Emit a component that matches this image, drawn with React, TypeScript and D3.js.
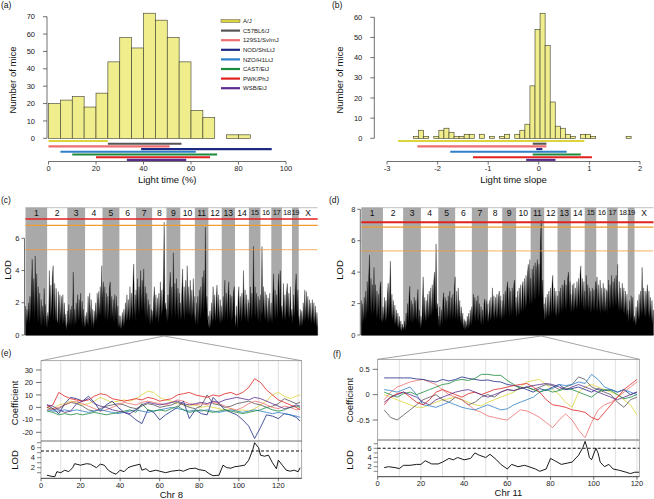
import React from "react";
import * as d3 from "d3";

const FONT = "'Liberation Sans', Arial, Helvetica, sans-serif";

// ---------- strains ----------
const strains = ["A/J", "C57BL6/J", "129S1/SvImJ", "NOD/ShiLtJ", "NZO/H1LtJ", "CAST/EiJ", "PWK/PhJ", "WSB/EiJ"];
const strainColors = ["#dcd43c", "#555555", "#ee6f6f", "#1c2a84", "#2f7fc6", "#1c8a3c", "#e0221f", "#5a2c8c"];

// ---------- (a) light time histogram ----------
const histA = [20, 22, 24, 18, 26, 44, 58, 52, 72, 68, 58, 44, 16, 12, 0, 2, 2];
const histAStart = 0;
const histAWidth = 5;
const rangesA: [number, number][] = [[0, 25], [25, 56], [0, 51], [39, 94], [5, 62], [10, 71], [20, 68], [33, 58]];
const ticksAx = [0, 20, 40, 60, 80, 100];
const ticksAy = [0, 10, 20, 30, 40, 50, 60, 70];

// ---------- (b) light time slope histogram ----------
const histB = [1, 4, 1, 0, 1, 4, 5, 3, 1, 1, 2, 2, 0, 2, 0, 1, 0, 1, 2, 0, 2, 4, 7, 26, 54, 62, 46, 18, 6, 5, 2, 1, 0, 2, 2, 1, 0, 0, 0, 0, 0, 0, 1];
const histBStart = -2.475;
const histBWidth = 0.1;
const rangesB: [number, number][] = [[-2.78, 0.9], [-0.12, 0.15], [-2.4, 0.15], [-0.05, 0.07], [-1.75, 0.55], [-0.12, 0.83], [-1.3, 1.05], [-0.25, 0.33]];
const ticksBx = [-3, -2, -1, 0, 1, 2];
const ticksBy = [0, 10, 20, 30, 40, 50, 60];

// ---------- genome ----------
const chrNames = ["1", "2", "3", "4", "5", "6", "7", "8", "9", "10", "11", "12", "13", "14", "15", "16", "17", "18", "19", "X"];
const chrLenMb = [195, 182, 160, 157, 152, 150, 145, 129, 125, 131, 122, 120, 120, 125, 104, 98, 95, 91, 61, 171];

// (c) genome scan LOD, light time
const lodC: number[][] = [
  [1.8, 0.6, 1.6, 0.8, 2.0, 0.7, 2.4, 1.0, 3.0, 4.7, 1.2, 3.5, 0.9, 4.9, 1.4, 3.8, 0.8, 3.0, 0.7, 2.6, 0.6, 2.2, 0.5, 1.8, 0.9, 2.9, 0.5, 1.9, 0.4, 1.2],
  [0.4, 1.4, 0.8, 4.0, 1.0, 3.1, 1.2, 3.6, 4.3, 0.9, 3.2, 0.8, 2.9, 1.0, 0.7, 2.7, 0.6, 2.5, 0.9, 2.4, 0.6, 2.5, 0.7, 2.0, 0.5, 1.3, 0.3, 0.9],
  [1.5, 0.5, 1.9, 0.6, 1.6, 0.5, 1.8, 0.7, 3.9, 0.5, 1.6, 0.6, 2.0, 0.7, 2.5, 0.8, 2.2, 0.9, 2.6, 0.7, 2.1, 0.5, 1.6, 0.4, 1.0],
  [1.2, 0.5, 1.4, 0.6, 2.4, 0.5, 2.6, 0.9, 2.2, 0.5, 1.6, 0.4, 1.5, 0.7, 2.0, 0.8, 2.6, 1.0, 2.7, 1.2, 3.0, 1.1, 4.3, 1.4],
  [2.2, 3.3, 1.0, 3.0, 0.9, 2.6, 0.8, 2.4, 1.0, 2.9, 3.3, 0.8, 2.4, 1.0, 2.2, 0.7, 2.5, 1.0, 2.4, 0.6, 1.8, 0.4, 1.2],
  [0.8, 0.4, 1.2, 0.3, 1.4, 0.5, 1.6, 0.6, 2.0, 0.8, 2.5, 0.9, 2.2, 0.8, 3.0, 1.0, 2.6, 1.0, 3.2, 4.4, 1.2, 2.5, 0.8],
  [2.8, 1.4, 3.5, 1.2, 3.0, 1.3, 4.0, 1.4, 3.4, 1.5, 4.1, 1.2, 3.0, 0.9, 2.6, 1.0, 2.2, 0.7, 1.9, 0.6, 1.6, 0.7],
  [1.5, 0.8, 2.2, 3.0, 0.9, 2.5, 1.0, 2.3, 0.7, 2.6, 1.0, 3.3, 1.2, 2.8, 1.3, 3.5, 7.0, 1.6, 2.0, 0.8],
  [1.6, 0.8, 2.5, 1.0, 2.9, 3.9, 1.0, 3.0, 1.2, 5.1, 1.3, 3.2, 1.0, 3.5, 1.2, 2.9, 0.9, 2.6, 0.8],
  [2.0, 1.0, 2.8, 4.1, 1.2, 3.0, 0.9, 3.4, 1.3, 4.3, 1.1, 3.0, 1.2, 3.4, 1.0, 2.8, 1.1, 3.5, 0.9, 2.4],
  [1.4, 0.6, 2.0, 0.6, 2.4, 0.8, 2.8, 1.0, 3.0, 1.2, 3.6, 1.3, 4.0, 1.5, 6.7, 1.6, 2.4, 0.9, 1.2],
  [0.8, 0.4, 1.5, 0.5, 2.0, 0.7, 3.0, 0.9, 2.5, 0.8, 2.2, 3.1, 0.9, 2.5, 0.8, 2.2, 0.7, 1.8],
  [1.6, 0.8, 2.4, 0.9, 3.4, 1.1, 2.6, 0.9, 2.4, 3.3, 1.0, 2.5, 0.8, 2.4, 0.9, 2.6, 3.0, 1.0],
  [1.2, 0.5, 1.8, 0.5, 2.2, 3.0, 0.9, 2.4, 0.8, 2.6, 1.1, 4.0, 1.0, 2.8, 0.9, 2.5, 0.8, 2.2, 0.7],
  [2.0, 1.0, 3.0, 0.9, 2.6, 1.1, 5.5, 1.2, 3.0, 1.0, 2.6, 0.9, 2.4, 0.8, 2.2, 0.7],
  [2.5, 1.2, 5.5, 1.2, 3.0, 1.0, 2.7, 0.9, 2.5, 0.8, 2.3, 0.7, 2.6, 0.9, 2.0],
  [1.5, 0.7, 2.4, 3.8, 1.1, 2.8, 0.9, 2.5, 1.0, 3.0, 3.8, 1.2, 4.0, 1.3, 1.8],
  [1.8, 0.9, 3.2, 1.0, 2.5, 0.9, 2.6, 3.2, 1.1, 2.6, 0.9, 3.0, 1.1, 1.6],
  [1.6, 0.7, 2.5, 1.0, 2.8, 3.8, 1.2, 2.8, 0.8],
  [1.2, 0.5, 1.6, 0.5, 1.5, 0.6, 2.0, 0.8, 2.8, 0.9, 2.7, 1.0, 2.4, 0.8, 2.2, 0.9, 2.0, 0.7, 2.2, 0.8, 2.0, 0.6, 1.8, 0.5, 1.4, 0.4],
];

// (d) genome scan LOD, light time slope
const lodD: number[][] = [
  [2.2, 0.6, 2.0, 0.8, 2.4, 0.9, 2.8, 1.1, 3.4, 1.3, 3.8, 5.1, 1.5, 3.6, 1.2, 3.2, 1.3, 4.3, 1.4, 3.2, 1.0, 2.8, 1.1, 2.6, 0.9, 3.0, 3.4, 1.1, 0.8, 1.8],
  [1.8, 0.9, 2.4, 0.8, 2.2, 0.9, 2.6, 3.3, 1.2, 3.0, 4.7, 1.1, 2.6, 0.9, 2.2, 0.7, 1.9, 0.6, 1.6, 0.5, 1.4, 0.4, 1.2, 0.3, 0.9, 0.2, 0.7, 0.3],
  [0.5, 0.3, 0.9, 0.3, 1.4, 0.5, 2.0, 0.8, 2.4, 3.1, 0.8, 2.2, 0.7, 2.0, 0.8, 2.4, 0.9, 2.2, 0.8, 2.0, 2.9, 0.7, 1.6, 0.4, 1.0],
  [1.2, 0.6, 2.0, 3.7, 0.9, 2.4, 0.8, 2.2, 0.9, 2.6, 1.0, 2.8, 1.1, 3.0, 1.2, 3.2, 1.4, 3.4, 4.0, 1.5, 5.8, 1.6, 2.0, 0.8],
  [1.2, 0.5, 1.8, 0.5, 1.6, 0.7, 2.2, 2.7, 0.9, 2.4, 0.8, 2.2, 0.9, 2.5, 1.0, 2.8, 1.0, 2.4, 1.0, 2.6, 1.1, 3.0, 3.7],
  [2.2, 1.0, 2.8, 0.9, 3.0, 1.0, 2.2, 0.8, 1.8, 0.6, 1.4, 0.4, 1.0, 0.3, 0.9, 0.4, 1.2, 0.4, 1.4, 0.5, 1.6, 0.6, 1.8],
  [1.8, 0.9, 2.6, 1.0, 2.4, 0.8, 2.2, 0.9, 2.5, 0.8, 2.0, 0.7, 1.8, 0.6, 1.6, 0.7, 2.0, 2.3, 0.9, 2.2, 0.8, 2.0],
  [1.6, 0.8, 2.2, 0.9, 2.4, 1.0, 3.0, 1.1, 2.5, 0.9, 2.4, 1.0, 2.6, 1.1, 2.4, 2.8, 1.0, 2.5, 0.9, 2.2],
  [2.0, 1.0, 2.6, 1.1, 2.8, 1.2, 3.0, 3.4, 1.3, 3.0, 1.1, 2.8, 1.2, 3.0, 1.3, 3.2, 3.5, 1.4, 2.4],
  [2.2, 1.1, 2.8, 1.2, 3.0, 1.3, 3.2, 1.4, 3.0, 3.4, 1.5, 3.6, 1.6, 3.8, 1.8, 4.0, 4.5, 1.9, 4.8, 2.0],
  [3.6, 1.8, 4.2, 2.0, 4.4, 2.1, 4.6, 2.2, 4.2, 4.8, 2.3, 4.5, 2.4, 6.0, 7.3, 2.2, 3.5, 1.5, 2.0],
  [1.8, 0.9, 2.4, 1.0, 2.6, 1.1, 2.8, 1.2, 3.0, 1.3, 3.2, 3.8, 1.3, 3.0, 1.2, 2.8, 1.1, 2.5],
  [2.4, 1.2, 2.8, 1.3, 3.0, 1.4, 3.2, 1.5, 3.0, 3.5, 1.5, 3.2, 1.6, 3.6, 4.0, 1.7, 3.4, 1.5],
  [2.6, 1.4, 3.2, 1.5, 3.3, 1.6, 3.0, 1.6, 3.4, 1.7, 3.6, 1.8, 3.8, 4.4, 1.8, 3.6, 1.6, 3.4, 1.5],
  [2.8, 1.5, 3.8, 1.6, 3.2, 1.5, 3.0, 1.4, 2.8, 1.4, 3.0, 1.5, 2.9, 1.5, 3.4, 1.4],
  [2.8, 3.7, 1.5, 3.2, 1.5, 3.5, 1.4, 3.0, 1.5, 3.3, 1.4, 3.0, 1.4, 2.9, 1.3],
  [2.8, 1.5, 3.5, 1.6, 3.2, 1.6, 3.8, 1.7, 3.4, 1.7, 3.6, 1.8, 3.8, 1.8, 4.5],
  [3.0, 1.6, 3.4, 1.5, 3.0, 1.5, 3.3, 1.4, 3.0, 1.3, 2.8, 1.2, 2.6, 1.1],
  [1.6, 0.8, 2.2, 0.9, 2.5, 1.0, 2.4, 0.8, 1.2],
  [1.2, 0.6, 1.8, 0.7, 2.2, 0.9, 2.6, 1.0, 2.8, 1.2, 4.3, 1.3, 3.0, 1.2, 2.8, 1.1, 2.6, 3.2, 1.2, 2.8, 1.0, 2.4, 0.9, 2.2, 0.7, 1.6],
];
const thresholdsC = [7.2, 6.8, 5.3];
const thresholdsD = [7.18, 6.86, 5.35];
const ticksC = [0, 2, 4, 6];
const ticksD = [0, 2, 4, 6, 8];

// ---------- (e) chr 8 zoom ----------
const posE = [3, 6, 9, 12, 15, 18, 21, 24, 27, 30, 33, 36, 39, 42, 45, 48, 51, 54, 57, 60, 63, 66, 69, 72, 75, 78, 81, 84, 87, 90, 93, 96, 99, 102, 105, 108, 111, 114, 117, 120, 123, 126, 129, 131];
const coefE_AJ = [0, -1, 2, 3, 5, 4, 2, 3, 5, 8, 6, 4, 5, 6, 5, 7, 10, 13, 12, 8, 6, 5, 3, 2, 1, 2, 0, 1, 0, -1, -2, -1, -3, -2, -3, -1, 2, 5, 10, 12, 9, 7, 9, 10];
const coefE_B6 = [0, -2, -1, 2, 4, 3, 1, -2, -3, -1, 1, 2, 3, 2, 0, -1, 1, 3, 2, 0, 1, 2, 4, 2, 0, -1, 1, 10, 3, 2, 0, 1, 3, 4, 5, 3, 2, 0, 1, 3, 7, 5, 3, 4];
const coefE_129 = [-2, -1, 0, 2, 4, 5, 3, 1, -1, -3, -2, 0, 2, 4, 3, 2, 4, 5, 4, 3, 2, 4, 6, 5, 3, 2, 3, 2, 4, 3, 1, -1, -2, 0, 3, 5, 4, 2, 0, -1, 1, 0, -2, -1];
const coefE_NOD = [2, -1, -5, 3, 8, 7, 5, 9, 4, -3, 2, 5, 0, -4, -6, -10, -13, -2, -4, -10, -6, -3, 0, 5, -9, -2, -5, -6, 8, 3, -2, -4, -6, -10, -15, -25, -16, -6, -7, -9, -5, -6, -8, -11];
const coefE_NZO = [-2, -3, -3, -2, -3, -2, -3, -4, -3, -2, -3, -4, -5, -4, -3, -2, -3, -4, -3, -2, -1, 0, -1, -2, -3, -2, -3, -2, -3, -4, -3, -2, -3, -4, -3, -2, -3, -4, -5, -4, -5, -6, -7, -8];
const coefE_CAST = [-3, -4, -6, -5, -6, -5, -6, -5, -4, -5, -6, -5, -4, -3, -2, -4, 3, -2, -3, -2, -3, -1, 1, -2, -4, -3, -2, -3, -4, -3, -2, -3, -4, -5, -4, -3, -2, 0, -2, -3, -2, 0, 1, 0];
const coefE_PWK = [0, 2, 12, 9, 7, 6, 5, 6, 9, 11, 10, 7, 6, 5, 6, 7, 6, 8, 7, 5, 6, 7, 10, 11, 12, 10, 9, 8, 10, 9, 11, 12, 10, 12, 16, 23, 20, 14, 10, 6, 4, 2, 0, -2];
const coefE_WSB = [2, 1, -2, -4, -3, 3, 5, 7, 3, 1, 0, -2, -3, -4, -5, -2, 2, 4, 3, 2, 3, 4, 5, 3, 2, 3, 4, 3, 5, 4, 6, 7, 8, 7, 6, 8, 7, 5, 3, 1, -1, 0, 2, 1];
const lodPosE = [3, 5, 7, 8, 10, 12, 14, 16, 17, 20, 23, 25, 28, 30, 32, 34, 36, 38, 40, 42, 44, 46, 48, 50, 51, 53, 55, 58, 60, 63, 66, 70, 72, 75, 78, 80, 83, 85, 87, 90, 92, 94, 96, 98, 100, 103, 105, 107, 108, 110, 111, 113, 115, 117, 119, 120, 122, 124, 126, 128, 130, 131];
const lodE = [0.5, 0.3, 0.2, 1.2, 1.0, 1.5, 1.2, 2.0, 2.8, 2.5, 2.8, 2.7, 2.0, 2.7, 2.5, 1.5, 1.0, 0.7, 1.5, 1.2, 2.0, 2.3, 2.5, 2.7, 1.5, 1.8, 1.2, 1.5, 1.3, 1.0, 1.3, 1.5, 1.3, 1.8, 1.9, 1.6, 1.4, 0.8, 0.4, 0.5, 2.5, 2.0, 1.9, 2.2, 2.3, 2.5, 3.5, 5.5, 7.0, 6.0, 4.5, 4.3, 4.5, 3.0, 1.8, 3.5, 2.5, 1.5, 1.3, 1.5, 1.2, 2.0];
const ticksEcoef = [-20, -10, 0, 10, 20, 30];

// ---------- (f) chr 11 zoom ----------
const posF = [3, 6, 9, 12, 15, 18, 21, 24, 27, 30, 33, 36, 39, 42, 45, 48, 51, 54, 57, 60, 63, 66, 69, 72, 75, 78, 81, 84, 87, 90, 93, 96, 99, 102, 105, 108, 111, 114, 117, 120];
const coefF_AJ = [0.0, -0.05, -0.1, -0.15, -0.2, -0.25, -0.25, -0.2, -0.15, -0.1, -0.08, -0.05, -0.1, -0.15, -0.2, -0.22, -0.15, -0.1, -0.05, 0.0, 0.05, 0.15, 0.25, 0.28, 0.3, 0.2, 0.1, 0.0, -0.15, -0.25, 0.05, 0.15, 0.2, 0.15, 0.1, 0.05, 0.0, -0.1, -0.2, -0.4];
const coefF_B6 = [-0.3, -0.45, -0.5, -0.4, -0.3, -0.2, -0.1, -0.05, 0.0, -0.1, -0.15, -0.05, -0.1, -0.2, -0.15, -0.05, 0.0, -0.05, 0.05, 0.1, 0.08, 0.12, 0.15, 0.1, 0.15, 0.2, 0.18, 0.1, 0.15, 0.2, 0.35, 0.3, 0.15, 0.1, 0.05, 0.0, -0.15, -0.25, -0.1, -0.05];
const coefF_129 = [-0.1, 0.05, 0.15, 0.2, 0.25, 0.28, 0.3, 0.25, 0.2, 0.1, 0.0, -0.05, -0.1, -0.2, -0.3, -0.35, -0.42, -0.45, -0.48, -0.5, -0.4, -0.3, -0.32, -0.38, -0.45, -0.55, -0.65, -0.5, -0.38, -0.5, -0.7, -0.85, -0.55, -0.3, -0.2, -0.15, -0.05, 0.05, 0.15, 0.25];
const coefF_NOD = [0.33, 0.33, 0.33, 0.33, 0.33, 0.31, 0.3, 0.27, 0.25, 0.3, 0.27, 0.3, 0.35, 0.32, 0.3, 0.28, 0.29, 0.26, 0.25, 0.2, 0.18, 0.15, 0.1, 0.05, 0.12, 0.08, 0.15, 0.2, 0.1, 0.12, 0.15, 0.1, 0.05, 0.12, 0.08, 0.1, 0.05, 0.1, 0.0, 0.05];
const coefF_NZO = [0.1, 0.08, 0.05, 0.1, 0.15, 0.0, -0.2, -0.22, -0.25, -0.2, -0.15, -0.2, -0.25, -0.28, -0.3, -0.25, -0.2, -0.25, -0.3, -0.28, -0.2, -0.15, -0.1, -0.05, 0.05, 0.1, 0.12, 0.2, 0.18, 0.2, 0.25, 0.22, 0.4, 0.3, 0.15, 0.1, 0.05, 0.1, 0.05, 0.0];
const coefF_CAST = [0.05, 0.0, -0.05, 0.02, 0.05, 0.0, 0.05, 0.1, 0.15, 0.2, 0.22, 0.28, 0.3, 0.28, 0.32, 0.4, 0.4, 0.38, 0.38, 0.28, 0.2, 0.12, 0.15, 0.1, 0.05, 0.1, 0.05, 0.08, 0.12, 0.1, 0.05, 0.0, -0.05, 0.05, 0.1, 0.08, 0.0, -0.08, -0.05, 0.0];
const coefF_PWK = [-0.2, -0.05, 0.02, 0.05, -0.05, -0.15, -0.2, -0.1, 0.05, 0.1, 0.05, 0.0, -0.05, 0.02, 0.05, 0.0, 0.05, 0.1, 0.12, 0.15, 0.18, 0.2, 0.22, 0.15, 0.05, -0.1, -0.2, -0.22, -0.25, -0.3, -0.32, -0.35, -0.45, -0.5, -0.35, -0.2, -0.05, 0.1, 0.2, 0.3];
const coefF_WSB = [-0.15, -0.05, 0.0, 0.05, 0.0, -0.05, -0.15, -0.2, -0.1, -0.05, 0.0, 0.05, 0.08, 0.1, 0.05, 0.0, -0.05, 0.0, 0.05, 0.1, 0.08, 0.12, 0.15, 0.18, 0.2, 0.22, 0.2, 0.15, 0.1, 0.15, 0.2, 0.15, 0.1, 0.05, 0.0, -0.05, -0.1, -0.05, 0.0, 0.05];
const lodPosF = [3, 5, 8, 10, 12, 15, 18, 20, 22, 25, 28, 30, 33, 35, 37, 40, 43, 45, 47, 50, 52, 55, 57, 60, 62, 65, 68, 70, 73, 75, 78, 80, 82, 85, 88, 90, 93, 95, 96, 97, 98, 99, 101, 102, 103, 105, 107, 109, 112, 115, 117, 119, 121];
const lodF = [1.8, 2.0, 1.8, 1.6, 2.3, 2.3, 2.5, 2.5, 3.3, 2.6, 2.6, 3.0, 3.8, 3.5, 4.0, 3.5, 3.8, 5.0, 4.5, 4.0, 4.7, 3.5, 2.5, 1.5, 2.5, 2.0, 2.3, 2.0, 1.5, 1.0, 1.5, 3.8, 3.3, 2.5, 2.8, 3.0, 4.5, 6.2, 7.5, 6.0, 4.0, 3.5, 6.0, 5.0, 3.0, 2.0, 2.5, 1.5, 1.2, 0.8, 0.5, 0.8, 0.8];
const ticksFcoef = [-0.5, 0, 0.5];

const ticksLodSub = [1, 2, 3, 4, 5, 6, 7];
const ticksLodSubLabel = [2, 4, 6];

// ---------- components ----------
type Scale = d3.ScaleLinear<number, number>;

function Hist({ x, y, counts, start, width }: { x: Scale; y: Scale; counts: number[]; start: number; width: number }) {
  return (
    <g>
      {counts.map((c, i) => {
        const x0 = x(start + i * width);
        const x1 = x(start + (i + 1) * width);
        return (
          <rect key={i} x={x0} y={y(c)} width={x1 - x0} height={y(0) - y(c)} fill="#efed8c" stroke="#3a3a2a" strokeWidth={0.6} />
        );
      })}
    </g>
  );
}

function Ranges({ x, ranges }: { x: Scale; ranges: [number, number][] }) {
  return (
    <g>
      {ranges.map((r, i) => (
        <line key={i} x1={x(r[0])} x2={x(r[1])} y1={141 + i * 2.7} y2={141 + i * 2.7} stroke={strainColors[i]} strokeWidth={2.1} />
      ))}
    </g>
  );
}

function XAxis({ x, ticks, y, fmt }: { x: Scale; ticks: number[]; y: number; fmt?: (v: number) => string }) {
  return (
    <g>
      <line x1={x(ticks[0])} x2={x(ticks[ticks.length - 1])} y1={y} y2={y} stroke="#333" strokeWidth={0.7} />
      {ticks.map((t) => (
        <g key={t}>
          <line x1={x(t)} x2={x(t)} y1={y} y2={y + 3} stroke="#333" strokeWidth={0.7} />
          <text x={x(t)} y={y + 9.5} fontSize={7.5} textAnchor="middle" fill="#222">
            {fmt ? fmt(t) : String(t)}
          </text>
        </g>
      ))}
    </g>
  );
}

function YAxis({ y, ticks, x, tickLen, gap, labels, fontSize = 7.5, line = true }: { y: Scale; ticks: number[]; x: number; tickLen: number; gap: number; labels?: number[]; fontSize?: number; line?: boolean }) {
  const lab = labels ?? ticks;
  return (
    <g>
      {line && <line x1={x} x2={x} y1={y(ticks[0])} y2={y(ticks[ticks.length - 1])} stroke="#333" strokeWidth={0.7} />}
      {ticks.map((t) => (
        <line key={"t" + t} x1={x - tickLen} x2={x} y1={y(t)} y2={y(t)} stroke="#333" strokeWidth={0.7} />
      ))}
      {lab.map((t) => (
        <text key={"l" + t} x={x - gap} y={y(t)} dy="0.35em" fontSize={fontSize} textAnchor="end" fill="#222">
          {String(t)}
        </text>
      ))}
    </g>
  );
}

function VTitle({ x, y, text, size = 9.5 }: { x: number; y: number; text: string; size?: number }) {
  return (
    <text transform={`translate(${x},${y}) rotate(-90)`} textAnchor="middle" dy="0.35em" fontSize={size} fill="#111">
      {text}
    </text>
  );
}

function GenomeScan({ left, right, top, yMax, lod, thresholds, ticks, redWidth }: { left: number; right: number; top: number; yMax: number; lod: number[][]; thresholds: number[]; ticks: number[]; redWidth: number }) {
  const total = d3.sum(chrLenMb);
  const offsets = chrLenMb.map((_, i) => d3.sum(chrLenMb.slice(0, i)));
  const x = d3.scaleLinear().domain([0, total]).range([left, right]);
  const bottom = 335;
  const y = d3.scaleLinear().domain([0, yMax]).range([bottom, top]);
  const pts: [number, number][] = [];
  lod.forEach((vals, c) => {
    vals.forEach((v, j) => {
      pts.push([offsets[c] + (j / (vals.length - 1)) * chrLenMb[c], v]);
    });
  });
  const area = d3.area<[number, number]>().x((d) => x(d[0])).y0(y(0)).y1((d) => y(d[1]));
  const bandBottom = top + 10;
  return (
    <g>
      {chrLenMb.map((len, i) => (
        <g key={i}>
          {i % 2 === 0 && <rect x={x(offsets[i])} y={top} width={x(offsets[i] + len) - x(offsets[i])} height={bottom - top} fill="#a9a9a9" />}
          <text
            x={(x(offsets[i]) + x(offsets[i] + len)) / 2}
            y={(top + bandBottom) / 2}
            dy="0.36em"
            fontSize={i >= 14 && i <= 18 ? 7.6 : 8.6}
            letterSpacing={i >= 14 && i <= 18 ? -0.4 : 0}
            textAnchor="middle"
            fill="#111"
          >
            {chrNames[i]}
          </text>
        </g>
      ))}
      <line x1={left} x2={right} y1={top} y2={top} stroke="#999" strokeWidth={0.6} />
      <path d={area(pts) ?? ""} fill="#000" stroke="#000" strokeWidth={0.3} />
      <line x1={left} x2={right} y1={y(0)} y2={y(0)} stroke="#000" strokeWidth={1} />
      <line x1={left} x2={right} y1={y(thresholds[0])} y2={y(thresholds[0])} stroke="#e0221f" strokeWidth={redWidth} />
      <line x1={left} x2={right} y1={y(thresholds[1])} y2={y(thresholds[1])} stroke="#f29a30" strokeWidth={1.2} />
      <line x1={left} x2={right} y1={y(thresholds[2])} y2={y(thresholds[2])} stroke="#f29a30" strokeWidth={1.2} strokeDasharray="1.2,0.8" />
      <YAxis y={y} ticks={ticks} x={left - 1} tickLen={3} gap={5} />
    </g>
  );
}

function ZoomPanel({ id, left, right, top, mid, bottom, xMax, coefDomain, coefTicks, pos, series, lodPos, lod, lodPerUnit, lodZero, dashed, xTicks, grid, title, fmtCoef }: any) {
  const x = d3.scaleLinear().domain([0, xMax]).range([left, right]);
  const yc = d3.scaleLinear().domain(coefDomain[0]).range(coefDomain[1]);
  const yl = (v: number) => lodZero - v * lodPerUnit;
  const line = d3.line<number>().x((_, i) => x(pos[i])).y((d) => yc(d));
  const lodLine = d3.line<number>().x((_, i) => x(lodPos[i])).y((d) => yl(d));
  return (
    <g>
      <defs>
        <clipPath id={id + "clip"}>
          <rect x={left} y={top} width={right - left} height={mid - top} />
        </clipPath>
      </defs>
      {grid.map((g: number) => (
        <line key={g} x1={x(g)} x2={x(g)} y1={top} y2={bottom} stroke="#d2d2d2" strokeWidth={0.7} />
      ))}
      <g clipPath={`url(#${id}clip)`}>
        {series.map((s: number[], i: number) => (
          <path key={i} d={line(s) ?? ""} fill="none" stroke={strainColors[i]} strokeWidth={0.8} />
        ))}
      </g>
      <rect x={left} y={top} width={right - left} height={bottom - top} fill="none" stroke="#888" strokeWidth={0.7} />
      <line x1={left} x2={right} y1={mid} y2={mid} stroke="#444" strokeWidth={0.8} />
      <line x1={left} x2={right} y1={yl(dashed)} y2={yl(dashed)} stroke="#111" strokeWidth={1.1} strokeDasharray="3,2" />
      <path d={lodLine(lod) ?? ""} fill="none" stroke="#000" strokeWidth={0.9} />
      <line x1={left} x2={right} y1={bottom} y2={bottom} stroke="#333" strokeWidth={0.8} />
      {coefTicks.map((t: number) => (
        <g key={t}>
          <line x1={left - 5} x2={left} y1={yc(t)} y2={yc(t)} stroke="#333" strokeWidth={0.7} />
          <text x={left - 8} y={yc(t)} dy="0.35em" fontSize={7.5} textAnchor="end" fill="#222">
            {fmtCoef(t)}
          </text>
        </g>
      ))}
      {ticksLodSub.filter((t) => yl(t) > mid).map((t) => (
        <line key={"l" + t} x1={left - 4} x2={left} y1={yl(t)} y2={yl(t)} stroke="#333" strokeWidth={0.6} />
      ))}
      {ticksLodSubLabel.map((t) => (
        <text key={"ll" + t} x={left - 6} y={yl(t)} dy="0.35em" fontSize={7.5} textAnchor="end" fill="#222">
          {String(t)}
        </text>
      ))}
      {xTicks.map((t: number) => (
        <g key={"x" + t}>
          <line x1={x(t)} x2={x(t)} y1={bottom} y2={bottom + 3} stroke="#333" strokeWidth={0.7} />
          <text x={x(t)} y={bottom + 9.5} fontSize={7.5} textAnchor="middle" fill="#222">
            {String(t)}
          </text>
        </g>
      ))}
      <text x={(left + right) / 2} y={bottom + 19.5} fontSize={9.5} textAnchor="middle" fill="#111">
        {title}
      </text>
    </g>
  );
}

export default function App() {
  const xA = d3.scaleLinear().domain([0, 100]).range([48.5, 286]);
  const yA = d3.scaleLinear().domain([0, 70]).range([138.3, 16.7]);
  const xB = d3.scaleLinear().domain([-3, 2]).range([387, 640]);
  const yB = d3.scaleLinear().domain([0, 60]).range([138.3, 17.3]);

  const total = d3.sum(chrLenMb);
  const offsets = chrLenMb.map((_, i) => d3.sum(chrLenMb.slice(0, i)));
  const xC = d3.scaleLinear().domain([0, total]).range([25.5, 317.7]);
  const xD = d3.scaleLinear().domain([0, total]).range([361.3, 653.5]);
  const peakC = xC(offsets[7] + 108);
  const peakD = xD(offsets[10] + 96);

  const seriesE = [coefE_AJ, coefE_B6, coefE_129, coefE_NOD, coefE_NZO, coefE_CAST, coefE_PWK, coefE_WSB];
  const seriesF = [coefF_AJ, coefF_B6, coefF_129, coefF_NOD, coefF_NZO, coefF_CAST, coefF_PWK, coefF_WSB];

  return (
    <svg width={654} height={499} viewBox="0 0 654 499" style={{ position: "absolute", left: 0, top: 0, background: "#fff" }} fontFamily={FONT}>
      <rect x={0} y={0} width={654} height={499} fill="#fff" />
      {/* panel labels */}
      <text x={1} y={8} fontSize={8.5} fill="#111">(a)</text>
      <text x={332} y={8} fontSize={8.5} fill="#111">(b)</text>
      <text x={1} y={203} fontSize={8.5} fill="#111">(c)</text>
      <text x={329} y={203} fontSize={8.5} fill="#111">(d)</text>
      <text x={1} y={356} fontSize={8.5} fill="#111">(e)</text>
      <text x={333} y={357} fontSize={8.5} fill="#111">(f)</text>

      {/* (a) */}
      <Hist x={xA} y={yA} counts={histA} start={histAStart} width={histAWidth} />
      <Ranges x={xA} ranges={rangesA} />
      <YAxis y={yA} ticks={ticksAy} x={47} tickLen={4} gap={12} />
      <XAxis x={xA} ticks={ticksAx} y={161.5} />
      <VTitle x={13} y={80} text="Number of mice" />
      <text x={(xA(0) + xA(100)) / 2} y={182.5} fontSize={9.5} textAnchor="middle" fill="#111">Light time (%)</text>
      {strains.map((s, i) => {
        const yy = 21 + i * 9.6;
        return (
          <g key={s}>
            {i === 0 ? (
              <rect x={221} y={yy - 1.4} width={19} height={2.8} fill="#dcd43c" stroke="#555" strokeWidth={0.5} />
            ) : (
              <line x1={221} x2={240} y1={yy} y2={yy} stroke={strainColors[i]} strokeWidth={2.2} />
            )}
            <text x={243} y={yy} dy="0.35em" fontSize={6} fill="#222">{s}</text>
          </g>
        );
      })}

      {/* (b) */}
      <Hist x={xB} y={yB} counts={histB} start={histBStart} width={histBWidth} />
      <Ranges x={xB} ranges={rangesB} />
      <YAxis y={yB} ticks={ticksBy} x={374.3} tickLen={4} gap={12} />
      <XAxis x={xB} ticks={ticksBx} y={161.5} />
      <VTitle x={340} y={80} text="Number of mice" />
      <text x={(xB(-3) + xB(2)) / 2} y={182.5} fontSize={9.5} textAnchor="middle" fill="#111">Light time slope</text>

      {/* (c), (d) */}
      <GenomeScan left={25.5} right={317.7} top={207.7} yMax={7.9} lod={lodC} thresholds={thresholdsC} ticks={ticksC} redWidth={1.6} />
      <VTitle x={8} y={270} text="LOD" />
      <GenomeScan left={361.3} right={653.5} top={207.7} yMax={8.1} lod={lodD} thresholds={thresholdsD} ticks={ticksD} redWidth={2} />
      <VTitle x={340} y={270} text="LOD" />

      {/* connector lines */}
      <line x1={peakC} y1={336} x2={41} y2={360.7} stroke="#666" strokeWidth={0.6} />
      <line x1={peakC} y1={336} x2={301.7} y2={360.7} stroke="#666" strokeWidth={0.6} />
      <line x1={peakD} y1={336} x2={377.7} y2={359.3} stroke="#666" strokeWidth={0.6} />
      <line x1={peakD} y1={336} x2={639.3} y2={359.3} stroke="#666" strokeWidth={0.6} />

      {/* (e) */}
      <ZoomPanel
        id="e"
        left={41}
        right={301.7}
        top={360.7}
        mid={441}
        bottom={478.3}
        xMax={131.8}
        coefDomain={[[-20, 30], [432.3, 370]]}
        coefTicks={ticksEcoef}
        pos={posE}
        series={seriesE}
        lodPos={lodPosE}
        lod={lodE}
        lodPerUnit={5}
        lodZero={477.7}
        dashed={5.35}
        xTicks={[0, 20, 40, 60, 80, 100, 120]}
        grid={[10, 20, 30, 40, 50, 60, 70, 80, 90, 100, 110, 120, 130]}
        title="Chr 8"
        fmtCoef={(t: number) => String(t)}
      />
      <VTitle x={15} y={403} text="Coefficient" />
      <VTitle x={15} y={460} text="LOD" />

      {/* (f) */}
      <ZoomPanel
        id="f"
        left={377.7}
        right={639.3}
        top={359.3}
        mid={440}
        bottom={476.7}
        xMax={121.1}
        coefDomain={[[-0.5, 0.5], [420, 369.3]]}
        coefTicks={ticksFcoef}
        pos={posF}
        series={seriesF}
        lodPos={lodPosF}
        lod={lodF}
        lodPerUnit={4.6}
        lodZero={475.9}
        dashed={6}
        xTicks={[0, 20, 40, 60, 80, 100, 120]}
        grid={[10, 20, 30, 40, 50, 60, 70, 80, 90, 100, 110, 120]}
        title="Chr 11"
        fmtCoef={(t: number) => (t === 0 ? "0" : String(t))}
      />
      <VTitle x={350} y={400} text="Coefficient" />
      <VTitle x={350} y={460} text="LOD" />
    </svg>
  );
}
